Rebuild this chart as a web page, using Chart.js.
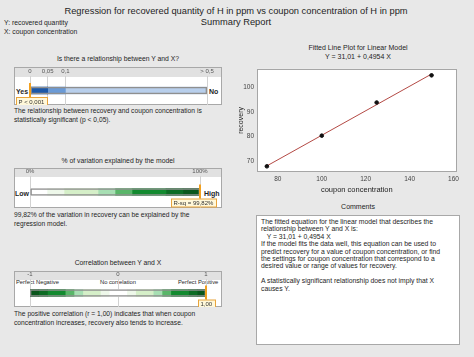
<!DOCTYPE html>
<html>
<head>
<meta charset="utf-8">
<script src="https://cdn.jsdelivr.net/npm/chart.js@4.4.1/dist/chart.umd.min.js"></script>
<style>
  body { margin: 0; background: #e8e8e8; font-family: "Liberation Sans", Arial, sans-serif; color: #1e1e1e; }
  #page { position: relative; width: 474px; height: 357px; overflow: hidden; }
  .t { position: absolute; white-space: nowrap; line-height: 1; transform: translateY(-50%); }
  .c { transform: translate(-50%, -50%); }
  .b { font-weight: bold; }
  .box { position: absolute; background: #fff; border: 1px solid #a8a8a8; box-sizing: border-box; }
  .hdr { position: absolute; left: 0; right: 0; top: 0; background: #e1e1e1; }
  canvas { position: absolute; }
  #comments { position: absolute; left: 256px; top: 215px; width: 204px; height: 130px; background: #fff;
              border: 1px solid #a8a8a8; box-sizing: border-box; padding: 2px 0 0 4px; font-size: 6.8px; line-height: 7.4px; }
  #comments div { white-space: nowrap; }
</style>
</head>
<body>
<div id="page">
  <div class="t c" style="left:236px;top:12px;font-size:9.3px">Regression for recovered quantity of H in ppm vs coupon concentration of H in ppm</div>
  <div class="t c" style="left:236px;top:23px;font-size:9.3px">Summary Report</div>
  <div class="t" style="left:4px;top:23px;font-size:6.8px">Y: recovered quantity</div>
  <div class="t" style="left:4px;top:32px;font-size:6.8px">X: coupon concentration</div>

  <!-- relationship gauge -->
  <div class="t c" style="left:118px;top:59px;font-size:6.8px">Is there a relationship between Y and X?</div>
  <div class="box" style="left:14px;top:67px;width:208px;height:38px"><div class="hdr" style="height:9px"></div></div>
  <div class="t b" style="left:16px;top:91px;font-size:7px">Yes</div>
  <div class="t b" style="left:209px;top:91px;font-size:7px">No</div>
  <canvas id="g1" width="208" height="38" style="left:14px;top:67px"></canvas>
  <div class="t" style="left:14px;top:111px;font-size:6.7px">The relationship between recovery and coupon concentration is</div>
  <div class="t" style="left:14px;top:120px;font-size:6.7px">statistically significant (p &lt; 0,05).</div>

  <!-- r-sq gauge -->
  <div class="t c" style="left:118px;top:161px;font-size:6.8px">% of variation explained by the model</div>
  <div class="box" style="left:14px;top:168px;width:208px;height:40px"><div class="hdr" style="height:8px"></div></div>
  <div class="t b" style="left:15px;top:193px;font-size:7px">Low</div>
  <div class="t b" style="left:204px;top:193px;font-size:7px">High</div>
  <canvas id="g2" width="208" height="40" style="left:14px;top:168px"></canvas>
  <div class="t" style="left:14px;top:215px;font-size:6.7px">99,82% of the variation in recovery can be explained by the</div>
  <div class="t" style="left:14px;top:224px;font-size:6.7px">regression model.</div>

  <!-- correlation gauge -->
  <div class="t c" style="left:118px;top:263px;font-size:6.8px">Correlation between Y and X</div>
  <div class="box" style="left:14px;top:271px;width:208px;height:36px"><div class="hdr" style="height:8px"></div></div>
  <div class="t" style="left:16px;top:283px;font-size:5.8px">Perfect Negative</div>
  <div class="t c" style="left:118px;top:283px;font-size:5.8px">No correlation</div>
  <div class="t" style="left:178px;top:283px;font-size:5.8px">Perfect Positive</div>
  <canvas id="g3" width="208" height="36" style="left:14px;top:271px"></canvas>
  <div class="t" style="left:14px;top:314px;font-size:6.7px">The positive correlation (r = 1,00) indicates that when coupon</div>
  <div class="t" style="left:14px;top:323px;font-size:6.7px">concentration increases, recovery also tends to increase.</div>

  <!-- fitted line plot -->
  <div class="t c" style="left:358px;top:47px;font-size:7px">Fitted Line Plot for Linear Model</div>
  <div class="t c" style="left:358px;top:56px;font-size:7px">Y = 31,01 + 0,4954 X</div>
  <canvas id="fit" width="230" height="134" style="left:232px;top:62px"></canvas>

  <div class="t c" style="left:358px;top:206px;font-size:7px">Comments</div>
  <div id="comments">
    <div>The fitted equation for the linear model that describes the</div>
    <div>relationship between Y and X is:</div>
    <div>&nbsp;&nbsp;&nbsp;Y = 31,01 + 0,4954 X</div>
    <div>If the model fits the data well, this equation can be used to</div>
    <div>predict recovery for a value of coupon concentration, or find</div>
    <div>the settings for coupon concentration that correspond to a</div>
    <div>desired value or range of values for recovery.</div>
    <div>&nbsp;</div>
    <div>A statistically significant relationship does not imply that X</div>
    <div>causes Y.</div>
  </div>
</div>

<script>
// data
const concentration = [75, 100, 125, 150];
const recovery = [68.0, 80.4, 93.8, 104.8];
const fitX = [75, 150];
const fitY = [68.17, 105.32];
const xTicks = [80, 100, 120, 140, 160];
const yTicks = [70, 80, 90, 100];

const pBounds = [0, 0.05, 0.1, 0.5];
const pTicks = [0, 0.05, 0.1, 0.5];
const pTickLabels = ['0', '0,05', '0,1', '> 0,5'];
const pValue = 0.001;
const pLabel = 'P < 0,001';

const rsqBounds = [0, 10, 20, 40, 50, 60, 80, 90, 100];
const rsqTicks = [0, 100];
const rsqTickLabels = ['0%', '100%'];
const rsqValue = 99.82;
const rsqLabel = 'R-sq = 99,82%';

const corrBounds = [-1, -0.9, -0.8, -0.6, -0.5, -0.4, -0.2, -0.1, 0.1, 0.2, 0.4, 0.5, 0.6, 0.8, 0.9, 1];
const corrTicks = [-1, 0, 1];
const corrTickLabels = ['-1', '0', '1'];
const corrValue = 1.00;
const corrLabel = '1,00';

const FONT = '"Liberation Sans", Arial, sans-serif';
Chart.defaults.font.family = FONT;
Chart.defaults.color = '#333';

const blues = ['#1c58a8', '#6a9ad6', '#b8cfec'];
const G = { d0: '#0a561c', d1: '#0d6c24', g: '#128a2f', m: '#59b669', mint: '#a7dfb3', pale: '#d5efc8', vp: '#eef8ea', w: '#ffffff' };
const rsqColors = [G.w, G.vp, G.pale, G.mint, G.m, G.g, G.d1, G.d0];
const corrColors = [G.d0, G.d1, G.g, G.m, G.mint, G.pale, G.vp, G.w, G.vp, G.pale, G.mint, G.m, G.g, G.d1, G.d0];

// orange marker line + value box on the gauges
const markerPlugin = {
  id: 'marker',
  afterDatasetsDraw(chart, args, opts) {
    const ctx = chart.ctx;
    const x = Math.round(chart.scales.x.getPixelForValue(opts.value));
    const bar = chart.getDatasetMeta(0).data[0];
    const top = bar.y - bar.height / 2;
    const bottom = bar.y + bar.height / 2;
    ctx.save();
    ctx.font = '6px ' + FONT;
    const tw = ctx.measureText(opts.label).width;
    const w = tw + 5, h = 8;
    let bx = x - w / 2;
    bx = Math.max(2, Math.min(chart.width - 6 - w, bx));
    const by = bottom + 3;
    ctx.strokeStyle = '#f2a01e';
    ctx.lineWidth = 2;
    ctx.beginPath();
    ctx.moveTo(x, top - 4);
    ctx.lineTo(x, by);
    ctx.stroke();
    ctx.fillStyle = '#fff8da';
    ctx.fillRect(Math.round(bx) + 0.5, by + 0.5, Math.round(w), h);
    ctx.lineWidth = 1;
    ctx.strokeStyle = '#e8a43c';
    ctx.strokeRect(Math.round(bx) + 0.5, by + 0.5, Math.round(w), h);
    ctx.fillStyle = '#333';
    ctx.textBaseline = 'middle';
    ctx.fillText(opts.label, Math.round(bx) + 2.5, by + h / 2 + 1);
    ctx.restore();
  }
};

function gauge(id, bounds, colors, ticks, tickLabels, value, label, hdr, padL, padR) {
  const datasets = [];
  for (let i = 0; i < bounds.length - 1; i++) {
    datasets.push({
      data: [[bounds[i], bounds[i + 1]]],
      backgroundColor: colors[i],
      borderWidth: 0,
      barThickness: 7,
      grouped: false
    });
  }
  datasets.push({
    data: [[bounds[0], bounds[bounds.length - 1]]],
    backgroundColor: 'rgba(0,0,0,0)',
    borderColor: '#8f8f8f',
    borderWidth: 1,
    borderSkipped: false,
    barThickness: 7,
    grouped: false,
    order: -1
  });
  return new Chart(document.getElementById(id), {
    type: 'bar',
    data: { labels: [''], datasets: datasets },
    options: {
      indexAxis: 'y',
      responsive: false,
      animation: false,
      layout: { padding: { left: padL, right: padR, top: 0, bottom: 0 } },
      plugins: { legend: { display: false }, tooltip: { enabled: false }, marker: { value: value, label: label } },
      scales: {
        x: {
          position: 'top',
          min: bounds[0],
          max: bounds[bounds.length - 1],
          afterBuildTicks: s => { s.ticks = ticks.map(v => ({ value: v })); },
          afterFit: s => { s.height = hdr; },
          ticks: { callback: (v, i) => tickLabels[i], font: { size: 6 }, color: '#555', padding: 1, maxRotation: 0, autoSkip: false },
          grid: { color: '#d2d2d2', drawTicks: false },
          border: { display: false }
        },
        y: { display: false }
      }
    },
    plugins: [markerPlugin]
  });
}

gauge('g1', pBounds, blues, pTicks, pTickLabels, pValue, pLabel, 9, 16, 15);
gauge('g2', rsqBounds, rsqColors, rsqTicks, rsqTickLabels, rsqValue, rsqLabel, 8, 16, 22);
gauge('g3', corrBounds, corrColors, corrTicks, corrTickLabels, corrValue, corrLabel, 8, 16, 16);

// white plot area with grey frame
const framePlugin = {
  id: 'frame',
  beforeDraw(chart) {
    const { ctx, chartArea: a } = chart;
    ctx.save();
    ctx.fillStyle = '#fff';
    ctx.fillRect(a.left, a.top, a.width, a.height);
    ctx.restore();
  },
  afterDraw(chart) {
    const { ctx, chartArea: a } = chart;
    ctx.save();
    ctx.strokeStyle = '#a6a6a6';
    ctx.lineWidth = 1;
    ctx.strokeRect(Math.round(a.left) + 0.5, Math.round(a.top) + 0.5, Math.round(a.width) - 1, Math.round(a.height) - 1);
    ctx.restore();
  }
};

new Chart(document.getElementById('fit'), {
  type: 'scatter',
  data: {
    datasets: [
      {
        data: concentration.map((x, i) => ({ x: x, y: recovery[i] })),
        backgroundColor: '#111',
        borderColor: '#111',
        pointRadius: 1.8,
        order: 0
      },
      {
        type: 'line',
        data: fitX.map((x, i) => ({ x: x, y: fitY[i] })),
        borderColor: '#b44a45',
        borderWidth: 1,
        pointRadius: 0,
        order: 1
      }
    ]
  },
  options: {
    responsive: false,
    animation: false,
    layout: { padding: { left: 0, right: 4, top: 3, bottom: 0 } },
    plugins: { legend: { display: false }, tooltip: { enabled: false } },
    scales: {
      x: {
        type: 'linear',
        min: 70.5,
        max: 161.4,
        afterBuildTicks: s => { s.ticks = xTicks.map(v => ({ value: v })); },
        afterFit: s => { s.height = 24; },
        ticks: { font: { size: 6.5 }, color: '#444', padding: 3, maxRotation: 0 },
        grid: { display: false, drawTicks: false },
        border: { display: false },
        title: { display: true, text: 'coupon concentration', font: { size: 7.5 }, color: '#222', padding: { top: 0, bottom: 2 } }
      },
      y: {
        type: 'linear',
        min: 65.7,
        max: 107.4,
        afterBuildTicks: s => { s.ticks = yTicks.map(v => ({ value: v })); },
        afterFit: s => { s.width = 25; },
        ticks: { font: { size: 6.5 }, color: '#444', padding: 3 },
        grid: { display: false, drawTicks: false },
        border: { display: false },
        title: { display: true, text: 'recovery', font: { size: 7 }, color: '#222', padding: { top: 5, bottom: 0 } }
      }
    }
  },
  plugins: [framePlugin]
});
</script>
</body>
</html>
